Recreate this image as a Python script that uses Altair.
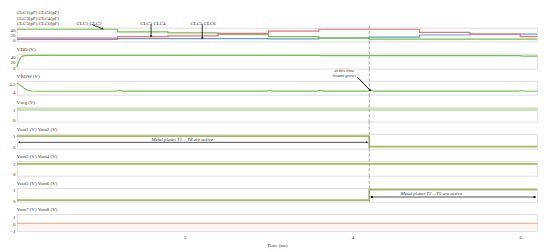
import altair as alt
import pandas as pd

FONT = "Liberation Serif"
T_MAX = 6.2
T_SWITCH = 4.2
W = 529
SPACING = 12.5
TXT = "#333333"

# ---------------- data ----------------
# panel 1: capacitances (pF), piecewise constant between switching times
c_edges = [0, 1.2, 1.8, 2.4, 3.0, 3.6, 4.2, 4.8, 5.4, 6.0]
c_green = [40, 30, 26, 20, 11, 5, 1, 1, 1, 1]
c_pink = [5, 11, 14, 24, 32.5, 40, 40, 27.5, 21, 11]
c_blue = [0, 3, 3, 3, 2.5, 5, 9, 17.5, 21, 21]
legend_rows = ["CLC1(pF)   CLC2(pF)", "CLC3(pF)   CLC4(pF)", "CLC5(pF)   CLC6(pF)"]
c_ann_text = ["CLC1  CLC2", "CLC3  CLC4", "CLC5  CLC6"]
c_ann_tx = [0.86, 1.62, 2.22]
c_arrow_x = [0.9, 1.6, 2.21]
c_arrow_y = [58, 60, 60]
c_arrow_x2 = [1.02, 1.6, 2.21]
c_arrow_y2 = [42, 13, 5]
c_arrow_angle = [110, 180, 180]

# panel 2: VDD
vdd_t = [0, 0.02, 0.04, 0.06, 0.09, 0.15, 3.58, 3.64, 5.98, 6.04, 6.2]
vdd_v = [2, 20, 33, 40, 43, 44, 44, 43, 43, 41.5, 41.5]

# panel 3: VROW
vrow_t = [0, 0.04, 0.08, 0.12, 0.18, 0.25, 1.18, 1.21, 1.26, 2.98, 3.01, 3.06,
          3.58, 3.61, 3.66, 4.18, 4.21, 4.26, 5.98, 6.01, 6.06, 6.2]
vrow_v = [4.55, 4.42, 4.25, 4.12, 4.06, 4.04, 4.04, 4.1, 4.05, 4.05, 4.09, 4.05,
          4.05, 4.1, 4.05, 4.05, 4.1, 4.05, 4.05, 4.09, 4.04, 4.04]

# panel 4: Vseg band
seg_t = [0, 6.2]
seg_lo = [0.9, 0.9]
seg_hi = [1.15, 1.15]

# panels 5-8: outputs (step values at edges)
out_edges = [0, 4.2]
out12 = [1, 0]
out34 = [1, 1]
out56 = [0, 1]
out78 = [0, 0]

panel_titles = ["VDD (V)", "VROW (V)", "Vseg (V)", "Vout1 (V)  Vout2 (V)",
                "Vout3 (V)  Vout4 (V)", "Vout5 (V)  Vout6 (V)", "Vout7 (V)  Vout8 (V)"]
heights = [14, 15, 14, 15, 15, 15, 14, 17]

GREEN = "#78bf56"
PINK = "#e8737f"
BLUE = "#6f9ac4"
OLIVE = "#a7b862"


def steps(edges, vals):
    return pd.DataFrame({"t": list(edges) + [T_MAX], "v": list(vals) + [vals[-1]]})


def xenc(axis=None):
    return alt.X("t:Q", scale=alt.Scale(domain=[0, T_MAX], nice=False, zero=False), axis=axis)


def yenc(domain, values):
    ax = dict(values=values, title=None, ticks=False, domain=False, grid=False, format="~r",
              labelFontSize=5, labelFont=FONT, labelColor=TXT, labelPadding=2)
    return alt.Y("v:Q", scale=alt.Scale(domain=domain, nice=False, zero=False), axis=alt.Axis(**ax))


def label(texts, offsets):
    df = pd.DataFrame({"label": texts, "off": offsets})
    return alt.Chart(df).mark_text(fontSize=5, font=FONT, color=TXT, align="left", baseline="bottom").encode(
        x=alt.value(0), y=alt.Y("off:Q", scale=None), text="label:N")


def dashed(top_px, h, X):
    return alt.Chart(pd.DataFrame({"t": [T_SWITCH]})).mark_rule(
        strokeDash=[3, 2], color="#8a8a8a", strokeWidth=0.8).encode(
        x=X, y=alt.value(top_px), y2=alt.value(h))


X = xenc()

# ---------------- panel 1 ----------------
h = heights[0]
Y1 = yenc([-8, 46], [0, 20, 40])
cdf = pd.concat([
    steps(c_edges, c_blue).assign(s="blue"),
    steps(c_edges, c_green).assign(s="green"),
    steps(c_edges, c_pink).assign(s="pink"),
])
p1_lines = alt.Chart(cdf).mark_line(interpolate="step-after", strokeWidth=1.2).encode(
    x=X, y=Y1, detail="s:N",
    color=alt.Color("s:N", scale=alt.Scale(domain=["green", "pink", "blue"], range=[GREEN, PINK, BLUE]),
                    legend=None))
ann1 = pd.DataFrame({"t": c_ann_tx, "v": [66] * 3, "label": c_ann_text})
p1_text = alt.Chart(ann1).mark_text(fontSize=5, font=FONT, color=TXT, baseline="middle").encode(
    x=X, y=Y1, text="label:N")
arr1 = pd.DataFrame({"t": c_arrow_x, "v": c_arrow_y, "t2": c_arrow_x2, "v2": c_arrow_y2})
p1_arrows = alt.Chart(arr1).mark_rule(color="black", strokeWidth=0.8).encode(
    x=X, y=Y1, x2="t2:Q", y2="v2:Q")
heads1 = pd.DataFrame({"t": c_arrow_x2, "v": c_arrow_y2, "ang": c_arrow_angle})
p1_heads = alt.Chart(heads1).mark_point(shape="triangle", filled=True, size=6, color="black", opacity=1).encode(
    x=X, y=Y1, angle=alt.Angle("ang:Q", scale=None))
panel1 = alt.layer(p1_lines, dashed(-2, h, X), p1_arrows, p1_heads, p1_text,
                   label(legend_rows, [-12.5, -7, -1.5])).properties(width=W, height=h)

# ---------------- panel 2 ----------------
h = heights[1]
Y2 = yenc([-5, 50], [0, 20, 40])
p2 = alt.Chart(pd.DataFrame({"t": vdd_t, "v": vdd_v})).mark_line(color=GREEN, strokeWidth=1.2).encode(x=X, y=Y2)
panel2 = alt.layer(p2, dashed(-SPACING, h, X), label([panel_titles[0]], [-2])).properties(width=W, height=h)

# ---------------- panel 3 ----------------
h = heights[2]
Y3 = yenc([3.84, 4.68], [4, 4.5])
p3 = alt.Chart(pd.DataFrame({"t": vrow_t, "v": vrow_v})).mark_line(color=GREEN, strokeWidth=1.1).encode(x=X, y=Y3)
ann3 = pd.DataFrame({"t": [3.9, 3.9], "v": [5.3, 4.97], "label": ["at this time", "instant grows"]})
p3_text = alt.Chart(ann3).mark_text(fontSize=4.5, font=FONT, color=TXT, fontStyle="italic").encode(
    x=X, y=Y3, text="label:N")
p3_arrow = alt.Chart(pd.DataFrame({"t": [4.06], "v": [4.9], "t2": [4.21], "v2": [4.1]})).mark_rule(
    color="black", strokeWidth=1).encode(x=X, y=Y3, x2="t2:Q", y2="v2:Q")
p3_head = alt.Chart(pd.DataFrame({"t": [4.21], "v": [4.1]})).mark_point(
    shape="triangle", filled=True, size=6, color="black", opacity=1, angle=139).encode(x=X, y=Y3)
panel3 = alt.layer(p3, dashed(-SPACING, h, X), p3_arrow, p3_head, p3_text,
                   label([panel_titles[1]], [-2])).properties(width=W, height=h)

# ---------------- panel 4 ----------------
h = heights[3]
Y4 = yenc([-0.2, 1.3], [0, 1])
p4 = alt.Chart(pd.DataFrame({"t": seg_t, "v": seg_lo, "v2": seg_hi})).mark_area(
    color="#b9dca2", opacity=0.9).encode(x=X, y=Y4, y2="v2:Q")
panel4 = alt.layer(p4, dashed(-SPACING, h, X), label([panel_titles[2]], [-2])).properties(width=W, height=h)

# ---------------- panel 5 ----------------
h = heights[4]
Y5 = yenc([-0.2, 1.2], [0, 1])
p5 = alt.Chart(steps(out_edges, out12)).mark_line(interpolate="step-after", color=OLIVE, strokeWidth=1.8).encode(x=X, y=Y5)
p5_arrow = alt.Chart(pd.DataFrame({"t": [0.03], "v": [0.4], "t2": [4.17]})).mark_rule(
    color="#222222", strokeWidth=0.8).encode(x=X, y=Y5, x2="t2:Q")
p5_heads = alt.Chart(pd.DataFrame({"t": [0.03, 4.17], "v": [0.4, 0.4], "ang": [270, 90]})).mark_point(
    shape="triangle", filled=True, size=6, color="black", opacity=1).encode(
    x=X, y=Y5, angle=alt.Angle("ang:Q", scale=None))
p5_text = alt.Chart(pd.DataFrame({"t": [1.97], "v": [0.72], "label": ["Metal plates T1 \u2013 T4 are active"]})).mark_text(
    fontSize=5, font=FONT, color=TXT, fontStyle="italic").encode(x=X, y=Y5, text="label:N")
panel5 = alt.layer(p5, dashed(-SPACING, h, X), p5_arrow, p5_heads, p5_text,
                   label([panel_titles[3]], [-2])).properties(width=W, height=h)

# ---------------- panel 6 ----------------
h = heights[5]
Y6 = yenc([-0.2, 1.3], [0, 1])
p6 = alt.Chart(steps(out_edges, out34)).mark_line(interpolate="step-after", color=OLIVE, strokeWidth=1.8).encode(x=X, y=Y6)
panel6 = alt.layer(p6, dashed(-SPACING, h, X), label([panel_titles[4]], [-2])).properties(width=W, height=h)

# ---------------- panel 7 ----------------
h = heights[6]
Y7 = yenc([-0.15, 1.15], [0, 1])
p7 = alt.Chart(steps(out_edges, out56)).mark_line(interpolate="step-after", color=OLIVE, strokeWidth=1.8).encode(x=X, y=Y7)
p7_arrow = alt.Chart(pd.DataFrame({"t": [4.23], "v": [0.3], "t2": [6.17]})).mark_rule(
    color="#888888", strokeWidth=1.5).encode(x=X, y=Y7, x2="t2:Q")
p7_ends = alt.Chart(pd.DataFrame({"t": [4.23, 6.17], "v": [0.3, 0.3]})).mark_point(
    shape="square", filled=True, size=4, color="black", opacity=1).encode(x=X, y=Y7)
p7_text = alt.Chart(pd.DataFrame({"t": [4.94], "v": [0.7], "label": ["Metal plates T2 \u2013 T5 are active"]})).mark_text(
    fontSize=5, font=FONT, color=TXT, fontStyle="italic").encode(x=X, y=Y7, text="label:N")
panel7 = alt.layer(p7, dashed(-SPACING, h, X), p7_arrow, p7_ends, p7_text,
                   label([panel_titles[5]], [-2])).properties(width=W, height=h)

# ---------------- panel 8 ----------------
h = heights[7]
XB = xenc(alt.Axis(values=[2, 4, 6], title="Time (ms)", ticks=False, domain=False, grid=False,
                   labelFontSize=5, labelFont=FONT, labelColor=TXT, labelPadding=4,
                   titleFontSize=5, titleFont=FONT, titleFontWeight="normal", titleColor=TXT,
                   titlePadding=3))
Y8 = yenc([-1.1, 1.35], [-1, 0, 1])
p8_band = alt.Chart(pd.DataFrame({"t": seg_t, "v": [-0.95, -0.95], "v2": [0, 0]})).mark_area(
    color="#f6dede", opacity=0.35).encode(x=XB, y=Y8, y2="v2:Q")
p8 = alt.Chart(steps(out_edges, out78)).mark_line(interpolate="step-after", color="#d7a98c", strokeWidth=1.1).encode(x=XB, y=Y8)
panel8 = alt.layer(p8_band, p8, label([panel_titles[6]], [-2])).properties(width=W, height=h)

chart = alt.vconcat(panel1, panel2, panel3, panel4, panel5, panel6, panel7, panel8,
                    spacing=SPACING, bounds="flush").properties(padding=0).configure_view(
    stroke="#a5a5a5", strokeWidth=1).configure(background="white")

chart.save("out.html", embed_options={"renderer": "svg", "actions": False})
